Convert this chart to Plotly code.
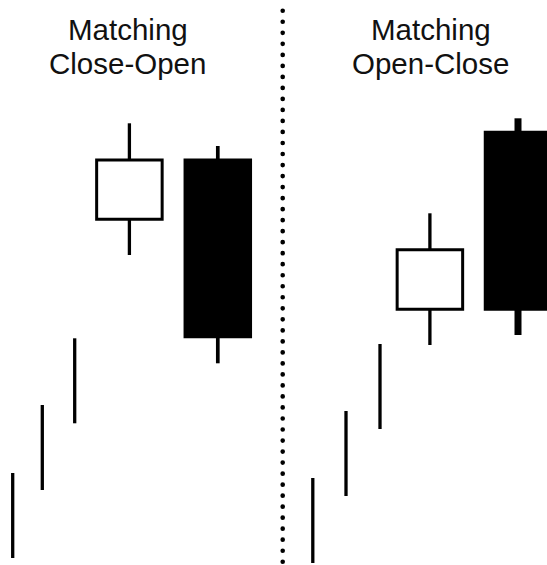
import plotly.graph_objects as go

# ---- data (price units) ----
# Left panel: "Matching Close-Open"
left_stick_x = [12.7, 42.3, 74.7]
left_stick_high = [9.2, 16.0, 22.67]
left_stick_low = [0.7, 7.5, 14.17]

left_candle_x = [129.4, 217.8]
left_open = [34.58, 40.5]
left_close = [40.5, 22.82]
left_high = [44.17, 41.9]
left_low = [31.0, 20.17]

# Right panel: "Matching Open-Close"
right_stick_x = [312.8, 346.0, 380.0]
right_stick_high = [8.7, 15.4, 22.1]
right_stick_low = [0.2, 6.9, 13.6]

right_candle_x = [429.9, 518.0]
right_open = [25.58, 43.28]
right_close = [31.52, 25.58]
right_high = [35.17, 44.67]
right_low = [22.0, 23.0]

titles_left = ["Matching", "Close-Open"]
titles_right = ["Matching", "Open-Close"]

fig = go.Figure()


def stick_segments(xs, lows, highs):
    X, Y = [], []
    for x, lo, hi in zip(xs, lows, highs):
        X += [x, x, None]
        Y += [lo, hi, None]
    return X, Y


def add_candles(xs, opens, closes, highs, lows, wick_widths):
    # wicks (upper and lower segments, not crossing body)
    for x, o, c, h, l, w in zip(xs, opens, closes, highs, lows, wick_widths):
        top, bot = max(o, c), min(o, c)
        fig.add_trace(go.Scatter(
            x=[x, x, None, x, x], y=[h, top, None, bot, l],
            mode="lines", line=dict(color="black", width=w),
            hoverinfo="skip", showlegend=False))
    colors = ["white" if c > o else "black" for o, c in zip(opens, closes)]
    fig.add_trace(go.Bar(
        x=xs,
        base=[min(o, c) for o, c in zip(opens, closes)],
        y=[abs(c - o) for o, c in zip(opens, closes)],
        width=[65.5] * len(xs),
        marker=dict(color=colors, line=dict(color="black", width=3)),
        hoverinfo="skip", showlegend=False))


for xs, lo, hi in [(left_stick_x, left_stick_low, left_stick_high),
                   (right_stick_x, right_stick_low, right_stick_high)]:
    X, Y = stick_segments(xs, lo, hi)
    fig.add_trace(go.Scatter(x=X, y=Y, mode="lines",
                             line=dict(color="black", width=3.3),
                             hoverinfo="skip", showlegend=False))

add_candles(left_candle_x, left_open, left_close, left_high, left_low, [3.3, 3.7])
add_candles(right_candle_x, right_open, right_close, right_high, right_low, [3.3, 7])

# dotted divider (round dots via round line caps, set after render)
fig.add_shape(type="line", xref="x", yref="paper",
              x0=282.7, x1=282.7, y0=1 - 10.7 / 565, y1=0,
              line=dict(color="black", width=4.6, dash="0.1px,10.92px"))

# titles
font = dict(family="Liberation Sans, Arial, sans-serif", size=29.5, color="#111111")
for cx, lines in [(127.5, titles_left), (430.5, titles_right)]:
    for i, txt in enumerate(lines):
        cy = [29.1, 63.1][i]
        fig.add_annotation(x=cx, y=1 - cy / 565, xref="x", yref="paper",
                           text=txt, showarrow=False, font=font,
                           xanchor="center", yanchor="middle")

fig.update_layout(
    width=547, height=565,
    margin=dict(l=0, r=0, t=0, b=0),
    paper_bgcolor="white", plot_bgcolor="white",
    barmode="overlay", showlegend=False,
    xaxis=dict(range=[0, 547], visible=False, fixedrange=True),
    yaxis=dict(range=[0, 56.5], visible=False, fixedrange=True),
)

fig.write_html(
    "out.html",
    config={"displayModeBar": False},
    post_script=(
        "document.body.style.margin='0';document.body.style.overflow='hidden';"
        "document.querySelectorAll('.shapelayer path').forEach(function(p){"
        "p.style.strokeLinecap='round';});"
    ),
)
